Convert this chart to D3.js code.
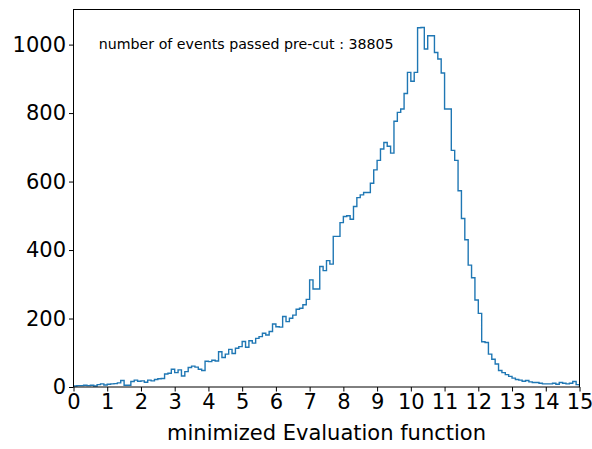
<!DOCTYPE html>
<html>
<head>
<meta charset="utf-8">
<script src="https://cdn.jsdelivr.net/npm/d3@7"></script>
<style>
  html, body { margin: 0; padding: 0; background: #fff; }
  svg { display: block; }
  text { font-family: "DejaVu Sans", sans-serif; fill: #000; }
</style>
</head>
<body>
<svg id="chart" width="592" height="449"></svg>
<script>
// Histogram of the minimized evaluation function, 150 bins of width 0.1 on [0, 15]
const binStart = 0;
const binWidth = 0.1;
const binCount = 150;

const counts = [
  // 0.0 - 2.9
  3, 4, 4, 5, 4, 5, 3, 7, 9, 6,
  8, 9, 10, 12, 19, 5, 5, 16, 20, 17,
  18, 14, 20, 18, 22, 24, 25, 38, 40, 52,
  // 3.0 - 5.9
  42, 50, 32, 45, 57, 61, 58, 52, 48, 75,
  74, 78, 76, 103, 86, 96, 110, 98, 113, 118,
  133, 116, 135, 128, 142, 147, 157, 152, 162, 184,
  // 6.0 - 8.9
  176, 175, 206, 191, 201, 210, 227, 230, 240, 256,
  313, 286, 286, 352, 340, 369, 359, 440, 440, 480,
  498, 500, 490, 527, 553, 561, 568, 568, 595, 634,
  // 9.0 - 11.9
  662, 695, 714, 703, 683, 776, 802, 812, 857, 919,
  893, 919, 1049, 1050, 987, 1026, 1026, 977, 958, 917,
  812, 812, 691, 662, 573, 492, 430, 356, 319, 254,
  // 12.0 - 14.9
  215, 132, 130, 96, 81, 67, 48, 42, 36, 31,
  26, 22, 20, 17, 19, 15, 13, 13, 11, 9,
  9, 9, 11, 8, 13, 11, 9, 11, 16, 7
];

const xTicks = d3.range(0, 16, 1);
const yTicks = [0, 200, 400, 600, 800, 1000];
const xLabel = "minimized Evaluation function";
const eventsPassed = 38805;
const noteText = "number of events passed pre-cut : " + eventsPassed;
const notePos = [0.75, 1000];

const svg = d3.select("#chart");
const plotL = 73.5, plotR = 579.5, plotT = 9.5, plotB = 387;

const x = d3.scaleLinear().domain([0, 15]).range([plotL, plotR]);
const y = d3.scaleLinear().domain([0, d3.max(counts) * 1.05]).range([plotB, plotT]);

svg.append("defs").append("clipPath").attr("id", "plotClip")
  .append("rect").attr("x", plotL).attr("y", plotT)
  .attr("width", plotR - plotL).attr("height", plotB - plotT);

// step outline of the histogram
const pts = [[binStart, 0]];
counts.forEach((c, i) => pts.push([binStart + i * binWidth, c]));
pts.push([binStart + binCount * binWidth, counts[binCount - 1]]);
pts.push([binStart + binCount * binWidth, 0]);

const line = d3.line()
  .x(d => x(d[0]))
  .y(d => y(d[1]))
  .curve(d3.curveStepAfter);

svg.append("path")
  .attr("clip-path", "url(#plotClip)")
  .attr("d", line(pts))
  .attr("fill", "none")
  .attr("stroke", "#1f77b4")
  .attr("stroke-width", 1.4)
  .attr("stroke-linejoin", "miter");

// axes
const xAxis = d3.axisBottom(x).tickValues(xTicks).tickFormat(d3.format("d"))
  .tickSizeInner(4.5).tickSizeOuter(0).tickPadding(3);
const yAxis = d3.axisLeft(y).tickValues(yTicks).tickFormat(d3.format("d"))
  .tickSizeInner(4.5).tickSizeOuter(0).tickPadding(3);

const gx = svg.append("g").attr("transform", `translate(0,${plotB})`).call(xAxis);
const gy = svg.append("g").attr("transform", `translate(${plotL},0)`).call(yAxis);
[gx, gy].forEach(g => {
  g.select(".domain").remove();
  g.selectAll(".tick line").attr("stroke", "#000").attr("stroke-width", 1);
  g.selectAll(".tick text").attr("font-size", 21).attr("fill", "#111")
    .attr("font-family", "DejaVu Sans, sans-serif");
});

// frame
svg.append("rect")
  .attr("x", plotL).attr("y", plotT)
  .attr("width", plotR - plotL).attr("height", plotB - plotT)
  .attr("fill", "none").attr("stroke", "#000").attr("stroke-width", 1);

svg.append("text")
  .attr("x", (plotL + plotR) / 2).attr("y", 440)
  .attr("text-anchor", "middle")
  .attr("font-size", 21)
  .attr("fill", "#111")
  .text(xLabel);

svg.append("text")
  .attr("x", x(notePos[0])).attr("y", y(notePos[1]) + 4.5)
  .attr("font-size", 14.2)
  .attr("fill", "#111")
  .text(noteText);
</script>
</body>
</html>
